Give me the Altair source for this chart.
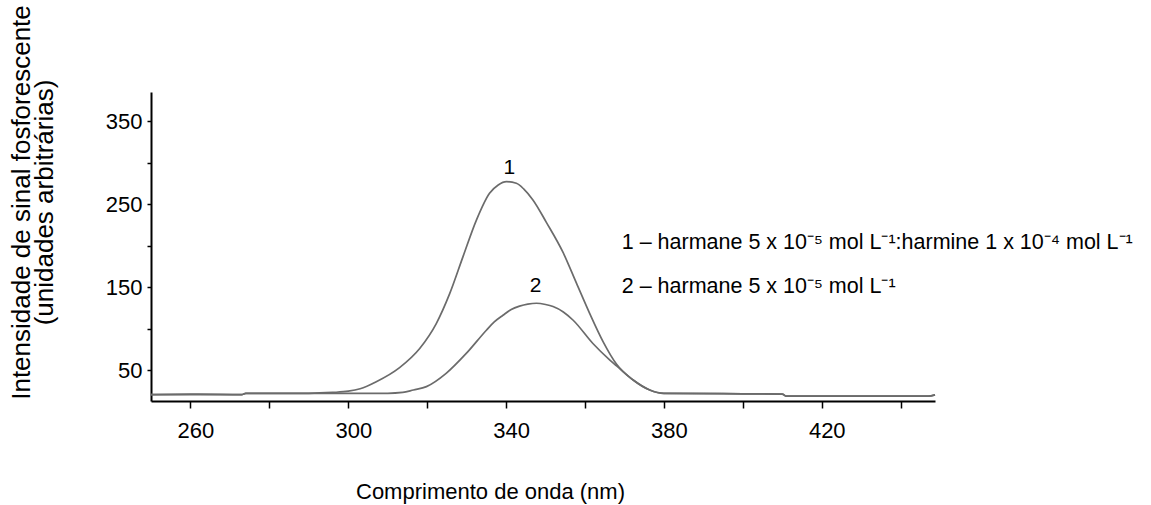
import altair as alt
import pandas as pd

# Curve 1: harmane 5e-5 : harmine 1e-4 (wavelength nm, intensity)
wl1 = [250, 262, 273, 274, 290, 296, 300, 303, 307.1, 313.0, 318.1, 322.3, 325.7, 329.1, 332.5,
       335.8, 338, 340.1, 342.6, 344.5, 346.8, 350.2, 354.4, 357.8, 361.2, 364.6, 368,
       372.2, 376.4, 380, 395, 410, 411, 447, 448.7]
int1 = [20.5, 21, 20.5, 22, 22, 23, 24.5, 27.5, 36, 53, 76, 106, 142, 187, 231,
        263, 273, 277, 275, 268, 255, 228, 192, 155, 118, 84, 57,
        38, 26, 22, 21.5, 21, 18.5, 18.5, 20]

# Curve 2: harmane 5e-5
wl2 = [250, 273, 274, 300, 310, 313.8, 316.5, 319.8, 324.8, 329.9, 335, 337, 339.2, 341.3,
       343.4, 345.5, 347.7, 350, 351.9, 354.5, 357, 362, 366.3, 368, 372.2, 376.4, 380,
       395, 410, 411, 447, 448.7]
int2 = [20.5, 20.5, 22, 22, 22, 23, 26, 30, 46, 70, 98, 108, 116, 123,
        127, 129.5, 130.5, 129, 126.5, 120, 110, 82, 62, 55, 38, 26, 22,
        21.5, 21, 18.5, 18.5, 20]

peak_labels = ["1", "2"]
peak_x = [340.8, 347.5]
peak_y = [294, 151.5]

legend_lines = [
    "1 \u2013 harmane 5 x 10\u207b\u2075 mol L\u207b\u00b9:harmine 1 x 10\u207b\u2074 mol L\u207b\u00b9",
    "2 \u2013 harmane 5 x 10\u207b\u2075 mol L\u207b\u00b9",
]
legend_x = [369.3, 369.3]
legend_y = [203, 150]

x_ticks = [260, 280, 300, 320, 340, 360, 380, 400, 420, 440]
y_ticks = [50, 100, 150, 200, 250, 300, 350]

FONT = "Liberation Sans"
GRAY = "#6b6b6b"

df = pd.concat([
    pd.DataFrame({"wl": wl1, "val": int1, "curve": "1"}),
    pd.DataFrame({"wl": wl2, "val": int2, "curve": "2"}),
])
df_peaks = pd.DataFrame({"x": peak_x, "y": peak_y, "t": peak_labels})
df_leg = pd.DataFrame({"x": legend_x, "y": legend_y, "t": legend_lines})

xscale = alt.Scale(domain=[250, 448.7], nice=False, zero=False)
yscale = alt.Scale(domain=[12.7, 385], nice=False, zero=False)

lines = alt.Chart(df).mark_line(color=GRAY, strokeWidth=1.7, interpolate="monotone").encode(
    x=alt.X("wl:Q", scale=xscale,
            axis=alt.Axis(values=x_ticks,
                          labelExpr="(datum.value - 260) % 40 == 0 ? datum.label : ''",
                          title="Comprimento de onda (nm)",
                          titleX=339, titleY=97, titleBaseline="alphabetic",
                          titleFontSize=22,
                          tickSize=7, labelPadding=12, labelOffset=5)),
    y=alt.Y("val:Q", scale=yscale,
            axis=alt.Axis(values=y_ticks,
                          labelExpr="datum.value % 100 == 50 ? datum.label : ''",
                          title=["Intensidade de sinal fosforescente", "(unidades arbitrárias)"],
                          titleX=-117, titleY=110, titleLineHeight=23,
                          titleFontSize=26,
                          tickSize=4, labelPadding=5)),
    detail="curve:N",
)

peaks = alt.Chart(df_peaks).mark_text(fontSize=21, font=FONT, color="black").encode(
    x=alt.X("x:Q", scale=xscale), y=alt.Y("y:Q", scale=yscale), text="t:N"
)

legend = alt.Chart(df_leg).mark_text(fontSize=21.5, font=FONT, color="black",
                                     align="left", baseline="middle").encode(
    x=alt.X("x:Q", scale=xscale), y=alt.Y("y:Q", scale=yscale), text="t:N"
)

chart = alt.layer(lines, peaks, legend).properties(
    width=784, height=309,
    autosize=alt.AutoSizeParams(type="none"),
    padding={"left": 151, "top": 92, "right": 216, "bottom": 104},
    background="white",
).configure_view(stroke=None).configure_axis(
    grid=False, domainColor="black", domainWidth=2, tickColor="black", tickWidth=1.5,
    labelFont=FONT, labelFontSize=22, labelColor="black",
    titleFont=FONT, titleFontWeight="normal", titleColor="black",
)

chart.save("out.html", embed_options={"renderer": "svg", "actions": False})
